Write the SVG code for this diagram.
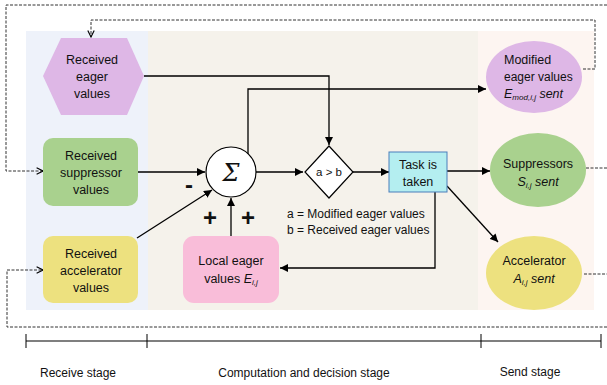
<svg xmlns="http://www.w3.org/2000/svg" width="607" height="385" viewBox="0 0 607 385">
<defs>
<marker id="ah" viewBox="0 0 10 10" refX="10" refY="5" markerWidth="8" markerHeight="8" markerUnits="userSpaceOnUse" orient="auto"><path d="M0,0 L10,5 L0,10 Z" fill="#000"/></marker>
<marker id="oa" viewBox="0 0 10 10" refX="9" refY="5" markerWidth="8" markerHeight="8" markerUnits="userSpaceOnUse" orient="auto"><path d="M1,1 L9,5 L1,9" fill="none" stroke="#000" stroke-width="1.4"/></marker>
<style>
text{font-family:"Liberation Sans",Arial,sans-serif;font-size:12.5px;fill:#111;text-anchor:middle}
.l{text-anchor:start}
.i{font-style:italic}
.sub{font-size:8px}
.c{fill:none;stroke:#000;stroke-width:1.3}
.d{fill:none;stroke:#333;stroke-width:1;stroke-dasharray:3 1.5}
.sg{font-family:"DejaVu Serif",serif;font-style:italic;font-size:24px}
.pm{font-size:24px;font-weight:bold}
</style>
</defs>
<rect width="607" height="385" fill="#fff"/>
<g id="panels">
<rect x="26" y="31" width="122" height="279" fill="#EEF2FA"/>
<rect x="148" y="31" width="330" height="279" fill="#F5F2EB"/>
<rect x="478" y="31" width="116" height="279" fill="#FDF5F1"/>
</g>
<g id="connectors">
<polyline class="c" points="144,76 329,76 329,145" marker-end="url(#ah)"/>
<polyline class="c" points="248,154 248,89 486,89" marker-end="url(#ah)"/>
<line class="c" x1="138" y1="172" x2="205" y2="172" marker-end="url(#ah)"/>
<line class="c" x1="137" y1="238" x2="212" y2="190" marker-end="url(#ah)"/>
<line class="c" x1="231" y1="236" x2="231" y2="198" marker-end="url(#ah)"/>
<line class="c" x1="256" y1="172" x2="303" y2="172" marker-end="url(#ah)"/>
<line class="c" x1="353" y1="172" x2="389" y2="172" marker-end="url(#ah)"/>
<line class="c" x1="447" y1="171" x2="490" y2="171" marker-end="url(#ah)"/>
<line class="c" x1="447" y1="186" x2="498" y2="242" marker-end="url(#ah)"/>
<polyline class="c" points="435,192 435,268 280,268" marker-end="url(#ah)"/>
<polyline class="d" points="583,69 595,69 595,20 91,20 91,37" marker-end="url(#oa)"/>
<polyline class="d" points="586,168 607,168"/>
<polyline class="d" points="607,5 6,5 6,171 43,171" marker-end="url(#oa)"/>
<polyline class="d" points="584,274 607,274"/>
<polyline class="d" points="607,327 7,327 7,270 43,270" marker-end="url(#oa)"/>
</g>
<g id="received-eager">
<polygon points="43,76 61,38 127,38 144,76 127,115 61,115" fill="#DEB7E6"/>
<text x="92" y="64">Received</text><text x="92" y="81">eager</text><text x="92" y="98">values</text>
</g>
<g id="received-suppressor">
<rect x="43" y="138" width="95" height="68" rx="10" fill="#A9D18E"/>
<text x="91" y="160">Received</text><text x="91" y="177">suppressor</text><text x="91" y="194">values</text>
</g>
<g id="received-accelerator">
<rect x="43" y="236" width="95" height="67" rx="10" fill="#EDE17F"/>
<text x="91" y="258">Received</text><text x="91" y="275">accelerator</text><text x="91" y="292">values</text>
</g>
<g id="sum">
<circle cx="231" cy="172" r="25" fill="#fff" stroke="#000" stroke-width="1.2"/>
<text class="sg" x="231" y="181">Σ</text>
<text class="pm" x="189" y="193">-</text>
<text class="pm" x="210" y="226">+</text>
<text class="pm" x="248" y="226">+</text>
</g>
<g id="compare">
<polygon points="329,146 353,172 329,198 305,172" fill="#fff" stroke="#000" stroke-width="1.2"/>
<text x="329" y="176" style="font-size:11.5px">a &gt; b</text>
<text class="l" x="287" y="218" style="font-size:12px">a = Modified eager values</text>
<text class="l" x="287" y="234" style="font-size:12px">b = Received eager values</text>
</g>
<g id="task">
<rect x="389" y="152" width="58" height="40" fill="#B4EEF0" stroke="#4A7EBB" stroke-width="1"/>
<text x="418" y="169">Task is</text><text x="418" y="186">taken</text>
</g>
<g id="local-eager">
<rect x="183" y="236" width="96" height="67" rx="11" fill="#F9BDD9"/>
<text x="231" y="265">Local eager</text>
<text x="231" y="283">values <tspan class="i">E</tspan><tspan class="i sub" dy="2">i,j</tspan></text>
</g>
<g id="modified-eager">
<ellipse cx="534" cy="77" rx="48" ry="36" fill="#DEB7E6"/>
<text class="l" x="504" y="64">Modified</text>
<text class="l" x="504" y="81" style="font-size:12px">eager values</text>
<text class="l i" x="504" y="98">E<tspan class="sub" dy="2">mod,i,j</tspan><tspan dy="-2"> sent</tspan></text>
</g>
<g id="suppressors">
<ellipse cx="538" cy="170" rx="48" ry="37" fill="#A9D18E"/>
<text x="538" y="168">Suppressors</text>
<text class="i" x="538" y="186">S<tspan class="sub" dy="2">i,j</tspan><tspan dy="-2">  sent</tspan></text>
</g>
<g id="accelerator">
<ellipse cx="534" cy="273" rx="48" ry="37" fill="#EDE17F"/>
<text x="534" y="265">Accelerator</text>
<text class="i" x="534" y="283">A<tspan class="sub" dy="2">i,j</tspan><tspan dy="-2"> sent</tspan></text>
</g>
<g id="timeline">
<line x1="26" y1="341" x2="601" y2="341" stroke="#000" stroke-width="1.2"/>
<line x1="26" y1="334" x2="26" y2="348" stroke="#000"/>
<line x1="147" y1="334" x2="147" y2="348" stroke="#000"/>
<line x1="481" y1="334" x2="481" y2="348" stroke="#000"/>
<line x1="601" y1="334" x2="601" y2="348" stroke="#000"/>
<text x="78" y="377" style="font-size:12px">Receive stage</text>
<text x="304" y="377" style="font-size:12px">Computation and decision stage</text>
<text x="530" y="376" style="font-size:12px">Send stage</text>
</g>
</svg>
